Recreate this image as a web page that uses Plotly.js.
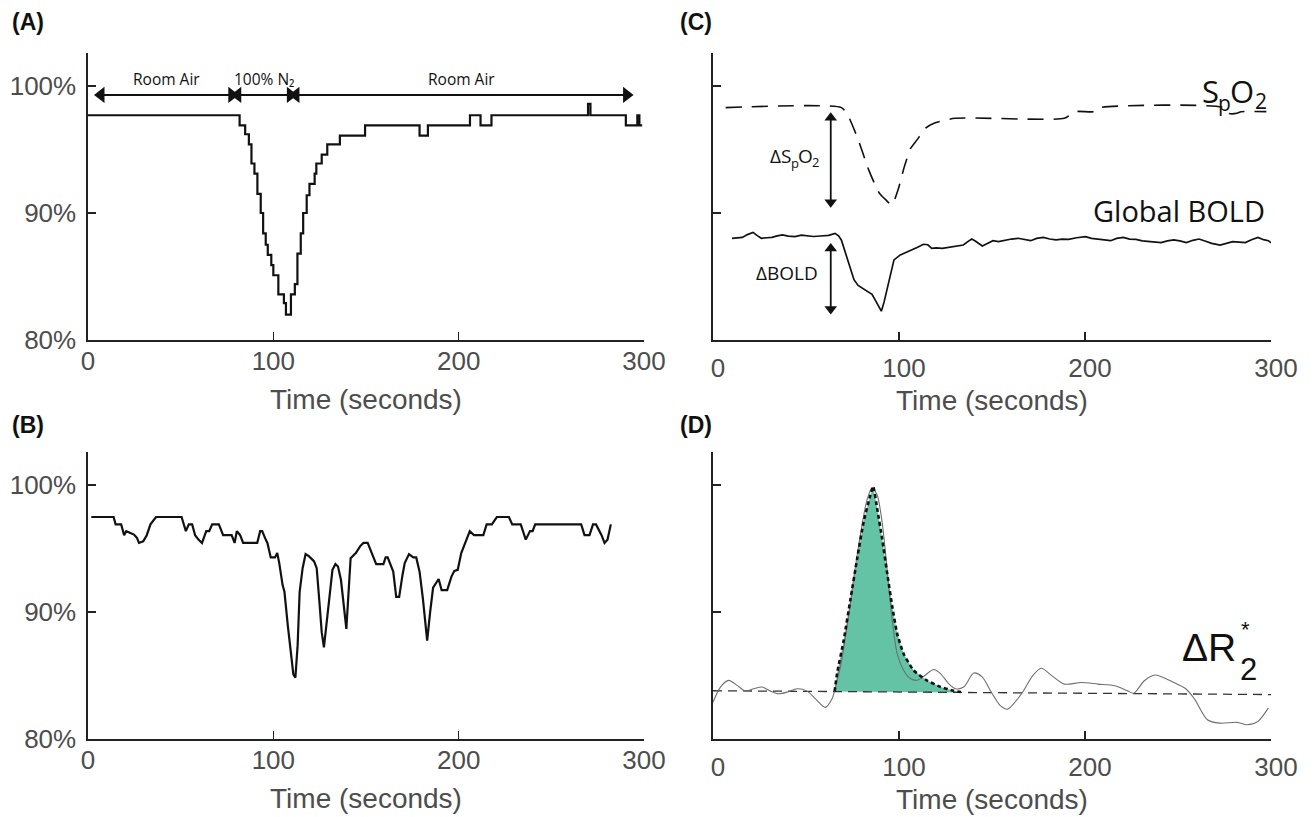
<!DOCTYPE html>
<html><head><meta charset="utf-8">
<script src="https://cdn.plot.ly/plotly-3.0.1.min.js"></script>
<style>html,body{margin:0;padding:0;background:#fff}#chart{width:1316px;height:817px}</style>
</head><body><div id="chart"></div>
<script>
// ---- shared tick labels ----
const xTickVals = [0, 100, 200, 300];
const xTickText = ['0', '100', '200', '300'];
const yTickVals = [80, 90, 100];
const yTickText = ['80%', '90%', '100%'];
const yTickValsNoLabel = [90, 100];
const xTitle = 'Time (seconds)';

// ---- Panel A: SpO2 during hypoxia challenge (step trace) ----
const aTime = [0, 81.8, 84.8, 86.8, 88.2, 89.8, 91.4, 93.2, 94.5, 95.9, 97.0, 98.9, 100.0, 102.7, 105.7, 106.8, 109.5, 111.6, 113.0, 114.8, 116.1, 118.0, 119.5, 122.3, 123.2, 126.1, 129.1, 135.9, 149.5, 178.9, 183.4, 206.1, 211.8, 217.7, 269.8, 271.1, 290.2, 296.4, 297.5, 299.0];
const aSpO2 = [97.7, 96.9, 96.2, 95.4, 93.9, 93.1, 91.5, 90.0, 88.4, 87.5, 86.7, 85.9, 85.1, 83.6, 82.9, 82.0, 83.6, 84.4, 86.8, 88.4, 90.0, 91.4, 92.3, 93.1, 93.9, 94.6, 95.4, 96.1, 96.9, 96.1, 96.9, 97.7, 96.9, 97.7, 98.6, 97.7, 96.9, 97.7, 96.9, 96.9];
const aPhaseStart = [7, 80.8, 112.2];
const aPhaseEnd = [77.6, 109.2, 290.6];
const aPhaseLabel = ['Room Air', '100% N₂', 'Room Air'];
const aPhaseLevel = 99.3;

// ---- Panel B: SpO2 trace ----
const bTime = [1.8, 13.8, 14.9, 17.9, 19.5, 20.6, 22.9, 24.8, 26.4, 27.5, 29.8, 31.7, 33.7, 36.7, 50.5, 52.8, 54.4, 56.2, 57.8, 59.6, 61.5, 63.8, 65.4, 67.0, 70.6, 72.9, 77.5, 79.1, 80.3, 82.1, 83.7, 91.3, 92.9, 94.0, 95.9, 96.8, 98.6, 100.9, 102.1, 103.2, 105.0, 106.0, 107.8, 109.6, 110.8, 111.9, 113.1, 114.2, 115.8, 117.4, 119.3, 122.0, 123.4, 125.0, 126.1, 127.3, 128.4, 130.3, 131.9, 133.5, 134.9, 136.5, 138.1, 139.4, 141.7, 144.5, 146.8, 148.6, 150.9, 153.7, 155.5, 159.4, 160.6, 161.7, 163.3, 164.7, 166.3, 167.9, 169.7, 170.9, 173.2, 175.5, 177.1, 178.9, 180.7, 183.0, 184.6, 186.2, 189.2, 190.8, 193.8, 196.1, 197.7, 199.5, 201.4, 203.7, 206.0, 208.3, 213.3, 215.1, 217.9, 220.6, 227.1, 228.9, 233.5, 236.2, 238.5, 239.9, 241.3, 266.1, 267.9, 270.6, 272.5, 274.1, 277.1, 278.7, 280.3, 282.1];
const bSpO2 = [97.48, 97.48, 96.9, 96.9, 96.05, 96.37, 96.23, 96.10, 95.84, 95.44, 95.57, 96.05, 96.9, 97.48, 97.48, 96.37, 96.9, 96.9, 96.05, 95.7, 95.44, 96.37, 96.37, 96.9, 96.9, 96.05, 96.05, 95.44, 96.37, 96.05, 95.44, 95.44, 96.37, 96.37, 95.7, 95.44, 94.3, 94.3, 94.64, 93.85, 92.12, 91.59, 88.94, 86.29, 85.09, 84.83, 87.35, 91.59, 93.45, 94.56, 94.38, 93.98, 93.45, 90.53, 88.41, 87.21, 88.67, 91.06, 93.32, 93.77, 93.58, 92.52, 90.53, 88.67, 94.24, 94.64, 95.17, 95.44, 95.44, 94.51, 93.77, 93.77, 94.30, 94.30, 93.71, 93.18, 91.19, 91.19, 92.92, 93.85, 94.56, 94.30, 94.30, 93.18, 91.06, 87.75, 89.99, 91.91, 92.60, 91.72, 91.72, 92.79, 93.24, 93.32, 94.64, 95.57, 96.37, 96.05, 96.05, 96.9, 96.9, 97.48, 97.48, 96.9, 96.9, 95.7, 96.37, 96.37, 96.9, 96.9, 96.05, 96.05, 96.9, 96.9, 96.05, 95.44, 95.7, 96.9];

// ---- Panel C: SpO2 (dashed) and global BOLD (solid), arbitrary units ----
const cSpTime = [6.8, 69.0, 72.4, 78.1, 83.7, 89.4, 92.8, 96.2, 99.5, 102.9, 106.3, 109.7, 114.3, 118.8, 130.1, 188.9, 194.6, 204.8, 208.1, 274.9, 277.1, 281.7, 283.9, 297.5];
const cSpValue = [98.3, 98.3, 97.72, 95.76, 93.4, 91.57, 91.05, 90.65, 91.83, 93.66, 95.1, 95.76, 96.68, 97.07, 97.46, 97.46, 97.98, 97.98, 98.3, 98.3, 97.85, 97.85, 97.98, 97.98];
const cBoldTime = [10.2, 13, 15.8, 18.5, 21.5, 24, 26, 29, 31.7, 34.5, 37.3, 40.5, 44.1, 47.5, 50.9, 54, 57.7, 60, 62.2, 65.6, 67.5, 69.0, 72.4, 75.8, 78, 80.3, 83.7, 85.5, 87.1, 90.5, 92, 93.9, 97.3, 100.7, 104, 107.5, 110, 113.1, 115.5, 117.6, 120, 123.3, 126.5, 130.1, 134.6, 137, 139.1, 141, 144.8, 147.5, 150.5, 153.5, 157.2, 160.5, 164.0, 167.5, 170.8, 174, 177.6, 181, 184.4, 187.8, 191.2, 195.5, 200.2, 203.5, 207.0, 210.5, 213.8, 217, 220.6, 224, 227.4, 230.8, 234.2, 237.5, 240.9, 244.3, 247.7, 251, 254.5, 258, 261.3, 264.5, 268.1, 272.6, 276, 279.4, 282.8, 286.2, 289.5, 293.0, 296, 298.6, 300];
const cBoldValue = [88.01, 88.05, 88.08, 88.3, 88.47, 88.2, 88.01, 88.05, 88.08, 88.2, 88.28, 88.18, 88.14, 88.25, 88.21, 88.15, 88.19, 88.22, 88.24, 88.40, 88.2, 87.88, 86.31, 84.75, 84.3, 84.09, 83.83, 83.6, 83.18, 82.27, 83.0, 84.22, 86.31, 86.70, 86.9, 87.09, 87.3, 87.54, 87.5, 87.22, 87.25, 87.22, 87.3, 87.35, 87.48, 87.75, 87.95, 87.8, 87.41, 87.6, 87.82, 87.75, 87.88, 87.95, 88.01, 87.9, 87.82, 88.0, 88.08, 87.95, 87.88, 87.95, 87.93, 88.05, 88.14, 88.0, 87.95, 87.85, 87.82, 88.0, 88.08, 87.95, 87.92, 87.8, 87.74, 87.7, 87.67, 87.8, 87.88, 87.8, 87.67, 87.85, 87.95, 87.8, 87.61, 87.48, 87.6, 87.74, 87.7, 87.67, 87.9, 88.08, 87.9, 87.82, 87.65];
const cArrowTime = 63.3;
const cSpArrow = [97.5, 90.85];
const cBoldArrow = [87.2, 82.45];

// ---- Panel D: measured ΔR2* (grey), gamma fit (dashed), baseline ----
const dR2Time = [0, 4.0, 8.4, 13.0, 17.4, 21.9, 26.4, 30.9, 35.3, 39.8, 45.2, 50.6, 55.1, 60.4, 64.0, 65.8, 68.5, 72.1, 75.6, 79.2, 82.8, 85.5, 88.2, 90.9, 93.6, 96.3, 99.0, 102.5, 106.1, 109.7, 113.3, 118.7, 122.3, 126.7, 130.3, 134.8, 140.2, 144.7, 149.1, 154.5, 158.4, 166.3, 171.9, 176.5, 182.1, 188.9, 198.0, 207.0, 216.1, 222.9, 226.2, 231.9, 237.6, 247.7, 254.5, 259.0, 265.8, 272.6, 281.7, 287.3, 293.0, 298.6];
const dR2Value = [82.89, 84.09, 84.62, 84.22, 83.77, 83.96, 84.09, 83.77, 83.56, 83.69, 83.96, 83.77, 83.16, 82.49, 83.16, 84.09, 85.68, 88.87, 92.59, 96.04, 98.83, 99.76, 99.23, 97.11, 93.39, 89.40, 86.75, 85.42, 84.76, 84.62, 84.94, 85.47, 85.15, 84.36, 83.96, 84.09, 85.20, 84.89, 83.82, 82.63, 82.35, 83.65, 84.99, 85.57, 84.99, 84.32, 84.45, 84.32, 84.19, 83.79, 83.60, 84.59, 85.04, 84.45, 83.92, 83.12, 81.52, 81.25, 81.31, 81.12, 81.39, 82.45];
const dFitTime = [65.4, 66.7, 70.3, 73.9, 77.5, 81.0, 84.6, 86.1, 88.2, 90.9, 93.6, 96.3, 99.0, 102.5, 107.9, 115.1, 122.3, 129.4, 135.0];
const dFitValue = [83.75, 85.15, 87.8, 91.0, 94.2, 97.1, 99.2, 99.9, 98.2, 95.8, 93.1, 90.5, 88.3, 86.7, 85.4, 84.6, 84.1, 83.8, 83.65];
const dBaseTime = [0, 300];
const dBaseValue = [83.8, 83.5];

// ---- helpers ----
function baseAt(t) {
  const f = (t - dBaseTime[0]) / (dBaseTime[1] - dBaseTime[0]);
  return dBaseValue[0] + f * (dBaseValue[1] - dBaseValue[0]);
}
const fillX = dFitTime.concat([dFitTime[dFitTime.length - 1], dFitTime[0]]);
const fillY = dFitValue.concat([baseAt(dFitTime[dFitTime.length - 1]), baseAt(dFitTime[0])]);

const traces = [
  {x: aTime, y: aSpO2, xaxis: 'x', yaxis: 'y', mode: 'lines', line: {color: '#111', width: 2.2, shape: 'hv'}},
  {x: bTime, y: bSpO2, xaxis: 'x2', yaxis: 'y2', mode: 'lines', line: {color: '#111', width: 2.2}},
  {x: cSpTime, y: cSpValue, xaxis: 'x3', yaxis: 'y3', mode: 'lines', line: {color: '#111', width: 1.6, dash: '16px,10px', shape: 'spline', smoothing: 0.6}},
  {x: cBoldTime, y: cBoldValue, xaxis: 'x3', yaxis: 'y3', mode: 'lines', line: {color: '#111', width: 1.7}},
  {x: fillX, y: fillY, xaxis: 'x4', yaxis: 'y4', mode: 'none', fill: 'toself', fillcolor: '#63c3a4'},
  {x: dBaseTime, y: dBaseValue, xaxis: 'x4', yaxis: 'y4', mode: 'lines', line: {color: '#333', width: 1.3, dash: '9px,6px'}},
  {x: dR2Time, y: dR2Value, xaxis: 'x4', yaxis: 'y4', mode: 'lines', line: {color: '#6f6f6f', width: 1.1, shape: 'spline', smoothing: 0.8}},
  {x: dFitTime, y: dFitValue, xaxis: 'x4', yaxis: 'y4', mode: 'lines', line: {color: '#111', width: 2.6, dash: '4px,3px', shape: 'spline', smoothing: 0.5}}
];

// double-headed arrows (panel A phases, panel C deltas)
for (let i = 0; i < aPhaseLabel.length; i++) {
  traces.push({x: [aPhaseStart[i], aPhaseEnd[i]], y: [aPhaseLevel, aPhaseLevel], xaxis: 'x', yaxis: 'y', mode: 'lines+markers',
    line: {color: '#111', width: 2}, marker: {symbol: ['triangle-left', 'triangle-right'], size: 14, color: '#111'}});
}
[cSpArrow, cBoldArrow].forEach(a => {
  traces.push({x: [cArrowTime, cArrowTime], y: a, xaxis: 'x3', yaxis: 'y3', mode: 'lines+markers',
    line: {color: '#111', width: 1.8}, marker: {symbol: ['triangle-up', 'triangle-down'], size: 11, color: '#111'}});
});

const W = 1316, H = 817;
const px = v => v / W, py = v => 1 - v / H;
const tickFont = {family: 'Liberation Sans, Arial, sans-serif', size: 26, color: '#4d4d4d'};
const titleFont = {family: 'Liberation Sans, Arial, sans-serif', size: 28, color: '#4d4d4d'};

function xAxis(dom, anchor, standoffLabels, titleStandoff, shift) {
  return {domain: dom, anchor: anchor, range: [0, 300], tickvals: xTickVals, ticktext: xTickText,
    showline: true, linecolor: '#222', linewidth: 1.6, ticks: 'inside', ticklen: 8, tickwidth: 1.6, tickcolor: '#222',
    showgrid: false, zeroline: false, tickfont: tickFont, ticklabelstandoff: standoffLabels, ticklabelshift: shift,
    title: {text: xTitle, font: titleFont, standoff: titleStandoff}, fixedrange: true};
}
function yAxis(dom, anchor, labels) {
  return {domain: dom, anchor: anchor, range: [80, 102.6],
    tickvals: labels ? yTickVals : yTickValsNoLabel, ticktext: labels ? yTickText : undefined,
    showticklabels: labels, showline: true, linecolor: '#222', linewidth: 1.6,
    ticks: 'inside', ticklen: 8, tickwidth: 1.6, tickcolor: '#222', showgrid: false, zeroline: false,
    tickfont: tickFont, ticklabelstandoff: 5, fixedrange: true};
}
const xLeft = [px(88), px(644)], xRight = [px(713), px(1271)];
const yTop = [py(340), py(53)], yBot = [py(739), py(452)];

const annFont = {family: 'Open Sans, sans-serif', color: '#111'};
const annotations = [];
function piece(xref, yref, x, y, text, size, xshift, yshift, anchor) {
  annotations.push({xref: xref, yref: yref, x: x, y: y, xanchor: anchor || 'left', yanchor: 'middle', xshift: xshift, yshift: yshift,
    text: text, showarrow: false, borderpad: 0, font: Object.assign({size: size}, annFont)});
}
// panel letters
[['(A)', 10, 22], ['(B)', 10, 425], ['(C)', 678, 22], ['(D)', 678, 425]].forEach(([t, x, y]) => {
  annotations.push({text: '<b>' + t + '</b>', xref: 'paper', yref: 'paper', x: px(x), y: py(y), xanchor: 'left', yanchor: 'middle',
    showarrow: false, font: {family: 'Liberation Sans, Arial, sans-serif', size: 23, color: '#111'}});
});
// panel A phase labels
for (let i = 0; i < aPhaseLabel.length; i++) {
  annotations.push({xref: 'x', yref: 'y', x: (aPhaseStart[i] + aPhaseEnd[i]) / 2, y: aPhaseLevel, yshift: 16, text: aPhaseLabel[i],
    showarrow: false, font: Object.assign({size: 15.5}, annFont)});
}
// panel C labels: S_pO_2 built from pieces (main letters + lowered subscripts)
piece('x3', 'y3', 298, 99.6, 'S', 31, -66, 0);
piece('x3', 'y3', 298, 99.6, 'p', 21, -50, -12);
piece('x3', 'y3', 298, 99.6, 'O', 31, -38, 0);
piece('x3', 'y3', 298, 99.6, '2', 21, -13, -10);
annotations.push({xref: 'x3', yref: 'y3', x: 298, y: 90.2, xanchor: 'right', yanchor: 'middle', text: 'Global BOLD', showarrow: false, font: Object.assign({size: 29}, annFont)});
piece('x3', 'y3', 42, 94.5, 'ΔS', 19, 1, 0, 'right');
piece('x3', 'y3', 42, 94.5, 'p', 13, -1, -7);
piece('x3', 'y3', 42, 94.5, 'O', 19, 6, 0);
piece('x3', 'y3', 42, 94.5, '2', 13, 20, -6);
annotations.push({xref: 'x3', yref: 'y3', x: 40, y: 85.3, xanchor: 'center', yanchor: 'middle', text: 'ΔBOLD', showarrow: false, font: Object.assign({size: 19}, annFont)});
// panel D label
annotations.push({xref: 'x4', yref: 'y4', x: 282.5, y: 87.2, xanchor: 'right', yanchor: 'middle', text: 'ΔR', showarrow: false, font: {family: 'Liberation Sans, Arial, sans-serif', size: 39, color: '#111'}});
annotations.push({xref: 'x4', yref: 'y4', x: 282.5, y: 85.5, xanchor: 'left', yanchor: 'middle', text: '2', showarrow: false, font: {family: 'Liberation Sans, Arial, sans-serif', size: 31, color: '#111'}});
annotations.push({xref: 'x4', yref: 'y4', x: 286.5, y: 88.6, xanchor: 'center', yanchor: 'middle', text: '*', showarrow: false, font: {family: 'Liberation Sans, Arial, sans-serif', size: 22, color: '#111'}});

const layout = {
  width: W, height: H, margin: {l: 0, r: 0, t: 0, b: 0}, showlegend: false,
  paper_bgcolor: '#fff', plot_bgcolor: '#fff',
  xaxis: xAxis(xLeft, 'y', -3, 14, 0), yaxis: yAxis(yTop, 'x', true),
  xaxis2: xAxis(xLeft, 'y2', -3, 14, 0), yaxis2: yAxis(yBot, 'x2', true),
  xaxis3: xAxis(xRight, 'y3', 4, 8, 5), yaxis3: yAxis(yTop, 'x3', false),
  xaxis4: xAxis(xRight, 'y4', 4, 8, 5), yaxis4: yAxis(yBot, 'x4', false),
  annotations: annotations
};
Plotly.newPlot('chart', traces, layout, {staticPlot: true, displayModeBar: false});
</script></body></html>
